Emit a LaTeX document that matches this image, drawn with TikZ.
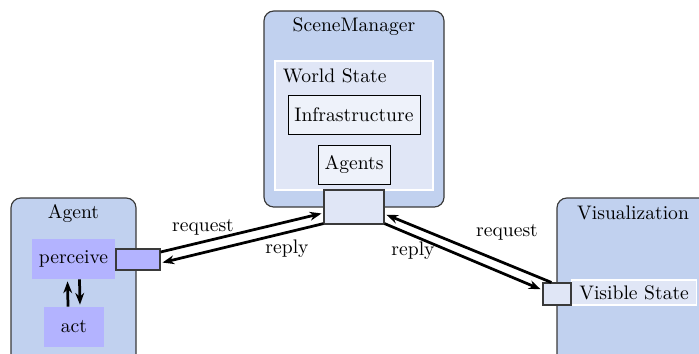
\documentclass[tikz,border=0pt]{standalone}
\usetikzlibrary{arrows.meta}
\definecolor{outerfill}{HTML}{C1D1EF}
\definecolor{innerfill}{HTML}{E0E6F6}
\definecolor{leaffill}{HTML}{EEF2FA}
\definecolor{procfill}{HTML}{B3B3FF}
\definecolor{edgegray}{HTML}{3A3A3A}
\newcommand\pxunit{0.51pt}
\tikzset{
  component/.style={draw=edgegray, fill=outerfill, rounded corners=5pt, line width=0.6pt},
  region/.style={draw=white, fill=innerfill, line width=0.6pt},
  leaf/.style={draw=black, fill=leaffill, line width=0.5pt, inner sep=0pt},
  proc/.style={fill=procfill, inner sep=0pt},
  port/.style={draw=edgegray, line width=0.6pt, inner sep=0pt},
  msg/.style={-{Stealth[length=6pt,width=4.5pt]}, line width=1.4pt, shorten >=1pt},
  lbl/.style={inner sep=1pt}
}
\begin{document}
\begin{tikzpicture}[x=\pxunit, y=-\pxunit]
\useasboundingbox (0,0) rectangle (699,353);
\clip (0,0) rectangle (699,353);

% SceneManager with its world state
\draw[component] (264,11) rectangle (444,207);
\node (smtitle) at (354,27) {SceneManager};
\draw[region] (275,61) rectangle (433,190);
\node[anchor=west] (ws) at (276,76) {World State};
\node[leaf, minimum width=132*\pxunit, minimum height=39*\pxunit] (infra) at (354,114.5) {Infrastructure};
\node[leaf, minimum width=72*\pxunit, minimum height=39*\pxunit] (agents) at (354,164.5) {Agents};
\node[port, fill=innerfill, minimum width=60*\pxunit, minimum height=34*\pxunit] (smport) at (354,207) {};

% Agent
\draw[component] (11,198) rectangle (136,365);
\node (agtitle) at (73.5,213) {Agent};
\node[proc, minimum width=83*\pxunit, minimum height=40*\pxunit] (perceive) at (73.5,259) {perceive};
\node[proc, minimum width=60*\pxunit, minimum height=40*\pxunit] (act) at (74,327) {act};
\node[port, fill=procfill, minimum width=44*\pxunit, minimum height=21*\pxunit] (agport) at (138,259.5) {};
\draw[msg] ([xshift=-6*\pxunit]act.north) -- ([xshift=-6*\pxunit]perceive.south);
\draw[msg] ([xshift=6*\pxunit]perceive.south) -- ([xshift=6*\pxunit]act.north);

% Visualization
\draw[component] (557,198) rectangle (712,365);
\node (vistitle) at (633,213) {Visualization};
\node[region, anchor=west, minimum width=125*\pxunit, minimum height=25*\pxunit, inner sep=2pt] (visible) at (571,292.5) {Visible State};
\node[port, fill=innerfill, minimum width=28*\pxunit, minimum height=22*\pxunit] (visport) at (557,294) {};

% Messages between the components
\draw[msg] ([yshift=7.5*\pxunit]agport.east) -- ([yshift=-6*\pxunit]smport.west);
\draw[msg] ([yshift=1*\pxunit]smport.south west) -- ([yshift=-3.5*\pxunit]agport.east);
\node[lbl] (req1) at (203,227) {request};
\node[lbl] (rep1) at (287,249) {reply};

\draw[msg] ([xshift=9*\pxunit]visport.north west) -- ([yshift=-7*\pxunit]smport.east);
\draw[msg] ([yshift=1*\pxunit]smport.south east) -- ([yshift=4*\pxunit]visport.west);
\node[lbl] (req2) at (507,232) {request};
\node[lbl] (rep2) at (413,251) {reply};
\end{tikzpicture}
\end{document}
